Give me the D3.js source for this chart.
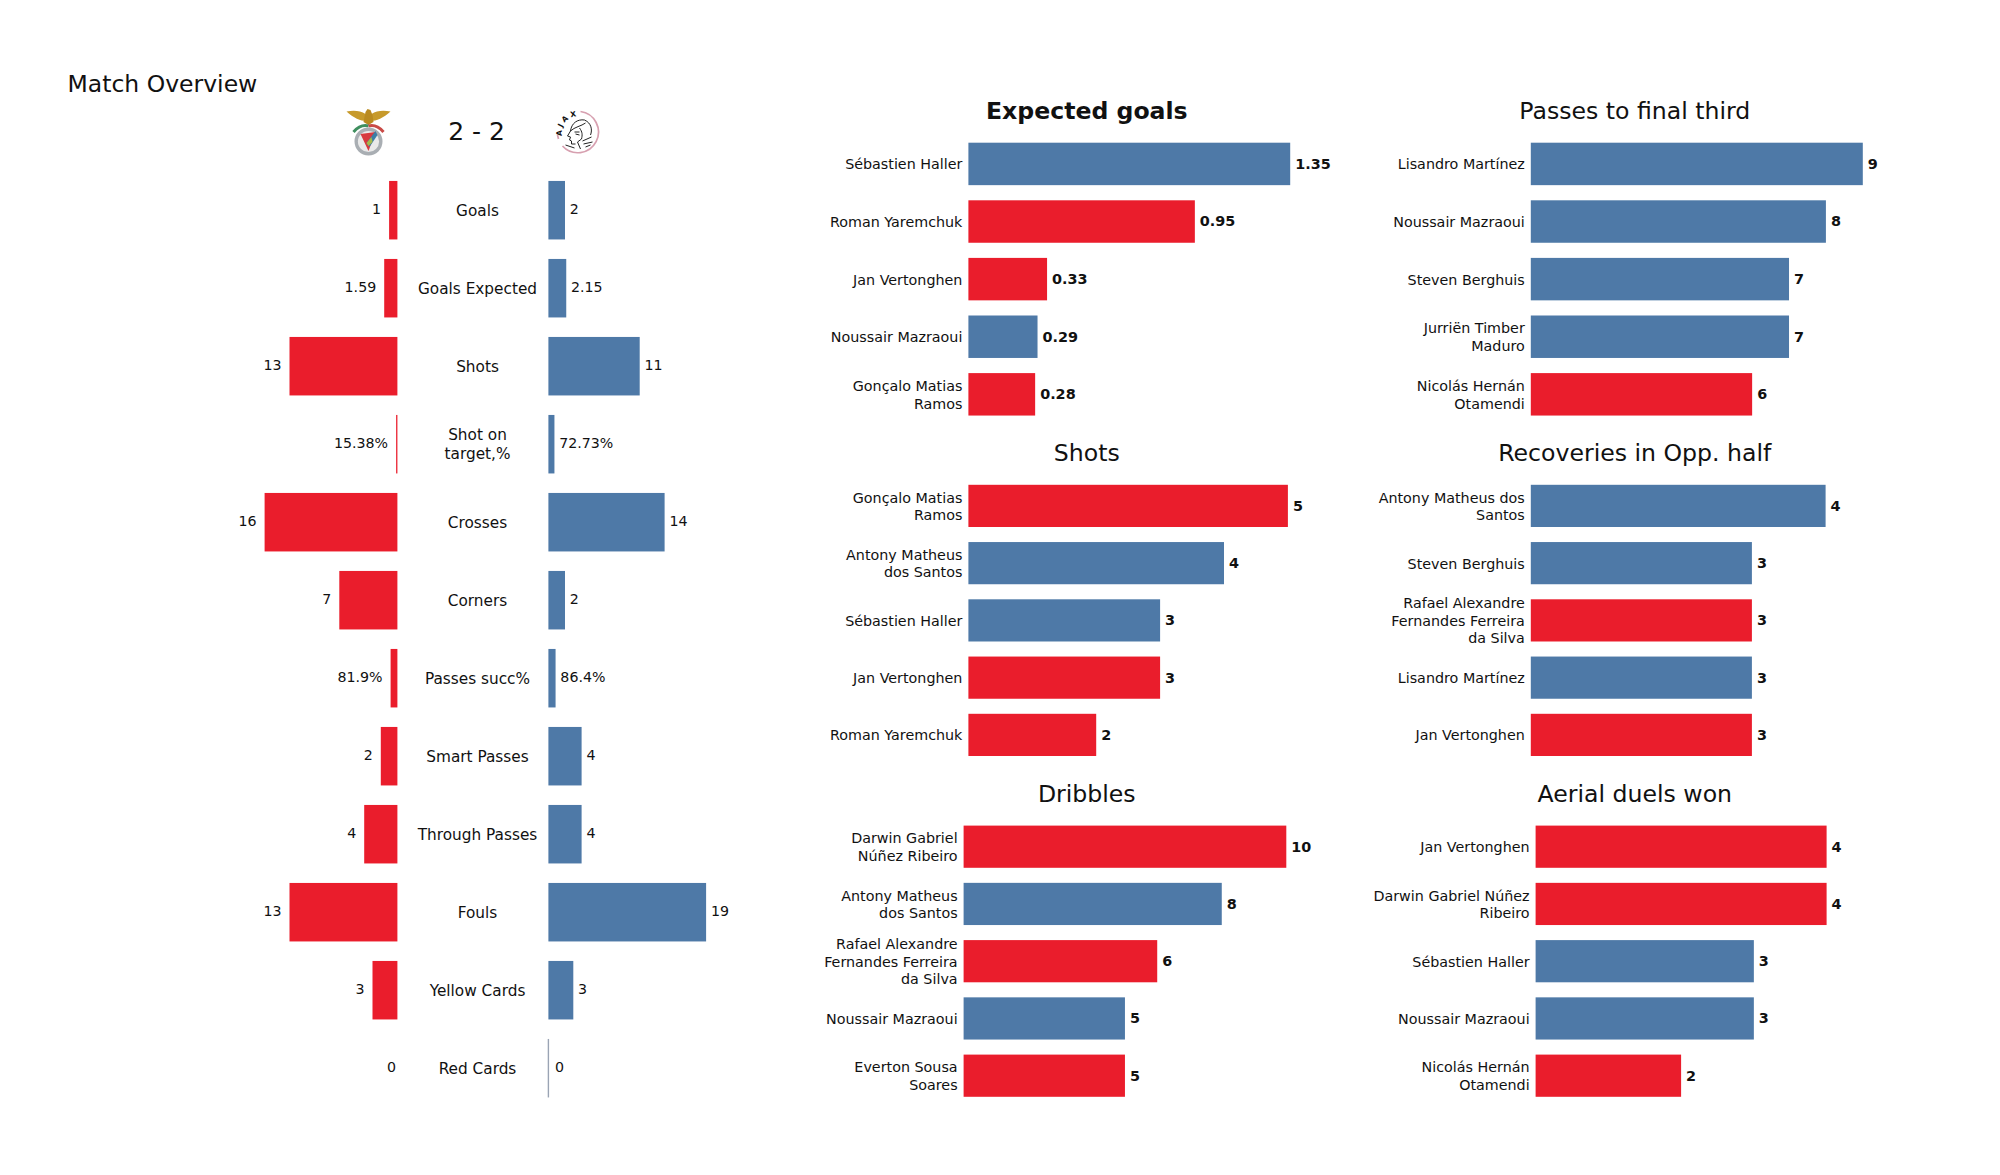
<!DOCTYPE html>
<html>
<head>
<meta charset="utf-8">
<script src="https://cdn.jsdelivr.net/npm/d3@7"></script>
<style>
html,body{margin:0;padding:0;background:#fff}
svg{display:block}
text{font-family:"DejaVu Sans",sans-serif;fill:#111}
</style>
</head>
<body>
<div id="chart"></div>
<script>
// ---- Data ----
const scoreText = "2 - 2";
const overviewTitle = "Match Overview";
const statCategories = ["Goals","Goals Expected","Shots","Shot on\ntarget,%","Crosses","Corners","Passes succ%","Smart Passes","Through Passes","Fouls","Yellow Cards","Red Cards"];
const homeValues = [1,1.59,13,0.1538,16,7,0.819,2,4,13,3,0];
const awayValues = [2,2.15,11,0.7273,14,2,0.864,4,4,19,3,0];
const homeLabels = ["1","1.59","13","15.38%","16","7","81.9%","2","4","13","3","0"];
const awayLabels = ["2","2.15","11","72.73%","14","2","86.4%","4","4","19","3","0"];

const xgTitle = "Expected goals";
const xgPlayers = ["Sébastien Haller","Roman Yaremchuk","Jan Vertonghen","Noussair Mazraoui","Gonçalo Matias\nRamos"];
const xgValues = [1.35,0.95,0.33,0.29,0.28];
const xgTeams = ["away","home","home","away","home"];

const shotsTitle = "Shots";
const shotsPlayers = ["Gonçalo Matias\nRamos","Antony Matheus\ndos Santos","Sébastien Haller","Jan Vertonghen","Roman Yaremchuk"];
const shotsValues = [5,4,3,3,2];
const shotsTeams = ["home","away","away","home","home"];

const dribblesTitle = "Dribbles";
const dribblesPlayers = ["Darwin Gabriel\nNúñez Ribeiro","Antony Matheus\ndos Santos","Rafael Alexandre\nFernandes Ferreira\nda Silva","Noussair Mazraoui","Everton Sousa\nSoares"];
const dribblesValues = [10,8,6,5,5];
const dribblesTeams = ["home","away","home","away","home"];

const finalThirdTitle = "Passes to final third";
const finalThirdPlayers = ["Lisandro Martínez","Noussair Mazraoui","Steven Berghuis","Jurriën Timber\nMaduro","Nicolás Hernán\nOtamendi"];
const finalThirdValues = [9,8,7,7,6];
const finalThirdTeams = ["away","away","away","away","home"];

const recoveriesTitle = "Recoveries in Opp. half";
const recoveriesPlayers = ["Antony Matheus dos\nSantos","Steven Berghuis","Rafael Alexandre\nFernandes Ferreira\nda Silva","Lisandro Martínez","Jan Vertonghen"];
const recoveriesValues = [4,3,3,3,3];
const recoveriesTeams = ["away","away","home","away","home"];

const aerialTitle = "Aerial duels won";
const aerialPlayers = ["Jan Vertonghen","Darwin Gabriel Núñez\nRibeiro","Sébastien Haller","Noussair Mazraoui","Nicolás Hernán\nOtamendi"];
const aerialValues = [4,4,3,3,2];
const aerialTeams = ["home","home","away","away","home"];

// ---- Style ----
const teamColor = {home:"#EA1D2C", away:"#4E79A7"};
const W = 2000, H = 1175;
const svg = d3.select("#chart").append("svg").attr("width",W).attr("height",H).attr("viewBox",`0 0 ${W} ${H}`);

// Replace an axis tick's text with one tspan per line, vertically centred on the tick
function multiline(sel, x, lh, mid){
  sel.each(function(){
    const t = d3.select(this), lines = t.text().split("\n");
    t.text(null).attr("dy",null).attr("y",0);
    lines.forEach((l,i)=>{
      t.append("tspan").attr("x",x)
       .attr("y",(i-(lines.length-1)/2)*lh + mid)
       .text(l);
    });
  });
}

// ---- Header ----
svg.append("text").attr("x",67.5).attr("y",84).attr("dy","0.36em").attr("font-size",23.5).text(overviewTitle);
svg.append("text").attr("x",476.5).attr("y",131).attr("dy","0.36em").attr("text-anchor","middle").attr("font-size",25).text(scoreText);

// ---- Left comparison panel ----
const unitPx = 8.3;
const maxUnits = 20;
const xHome = d3.scaleLinear().domain([0,maxUnits]).range([397.4,397.4-maxUnits*unitPx]);
const xAway = d3.scaleLinear().domain([0,maxUnits]).range([548.4,548.4+maxUnits*unitPx]);
const yStat = d3.scaleBand().domain(statCategories).range([171.2,171.2+12*78]).paddingInner(0.25).paddingOuter(0.125);
const left = svg.append("g").attr("class","overview");

left.selectAll("rect.home").data(statCategories).join("rect").attr("class","home")
  .attr("x",(d,i)=>xHome(homeValues[i])).attr("y",d=>yStat(d))
  .attr("width",(d,i)=>xHome(0)-xHome(homeValues[i])).attr("height",yStat.bandwidth())
  .attr("fill",teamColor.home);
left.selectAll("rect.away").data(statCategories).join("rect").attr("class","away")
  .attr("x",xAway(0)).attr("y",d=>yStat(d))
  .attr("width",(d,i)=>xAway(awayValues[i])-xAway(0)).attr("height",yStat.bandwidth())
  .attr("fill",teamColor.away);
// Zero-valued away bar still shows its hairline edge
left.selectAll("line.zero").data(statCategories.filter((d,i)=>awayValues[i]===0)).join("line").attr("class","zero")
  .attr("x1",xAway(0)).attr("x2",xAway(0)).attr("y1",d=>yStat(d)).attr("y2",d=>yStat(d)+yStat.bandwidth())
  .attr("stroke","#9aa4b4").attr("stroke-width",1.4);

left.selectAll("text.hv").data(statCategories).join("text").attr("class","hv")
  .attr("x",(d,i)=>xHome(homeValues[i])-(homeValues[i]===0?1.4:8))
  .attr("y",d=>yStat(d)+yStat.bandwidth()/2-1).attr("dy","0.36em")
  .attr("text-anchor","end").attr("font-size",14.2).text((d,i)=>homeLabels[i]);
left.selectAll("text.av").data(statCategories).join("text").attr("class","av")
  .attr("x",(d,i)=>xAway(awayValues[i])+(awayValues[i]===0?6.5:4.8))
  .attr("y",d=>yStat(d)+yStat.bandwidth()/2-1).attr("dy","0.36em")
  .attr("text-anchor","start").attr("font-size",14.2).text((d,i)=>awayLabels[i]);

const statAxis = left.append("g").attr("transform","translate(477.5,0)")
  .call(d3.axisLeft(yStat).tickSize(0).tickPadding(0));
statAxis.select(".domain").remove();
statAxis.selectAll("text").attr("text-anchor","middle").attr("font-size",15.3).attr("fill","#111")
  .attr("font-family",'"DejaVu Sans",sans-serif').call(multiline,0,19,5.4);

// ---- Player panels ----
const panels = [
  {title:xgTitle, bold:true, players:xgPlayers, values:xgValues, teams:xgTeams, left:968.4, top:142.7, step:57.6, width:321.8, titleX:1086.8, titleY:111},
  {title:shotsTitle, players:shotsPlayers, values:shotsValues, teams:shotsTeams, left:968.4, top:484.8, step:57.25, width:319.5, titleX:1086.8, titleY:453},
  {title:dribblesTitle, players:dribblesPlayers, values:dribblesValues, teams:dribblesTeams, left:963.6, top:825.6, step:57.25, width:322.7, titleX:1086.8, titleY:794},
  {title:finalThirdTitle, players:finalThirdPlayers, values:finalThirdValues, teams:finalThirdTeams, left:1530.8, top:142.7, step:57.6, width:332, titleX:1634.8, titleY:111},
  {title:recoveriesTitle, players:recoveriesPlayers, values:recoveriesValues, teams:recoveriesTeams, left:1530.8, top:484.8, step:57.25, width:294.8, titleX:1634.8, titleY:453},
  {title:aerialTitle, players:aerialPlayers, values:aerialValues, teams:aerialTeams, left:1535.6, top:825.6, step:57.25, width:291, titleX:1634.8, titleY:794}
];
const pi = 0.263, po = pi/2;
panels.forEach(p=>{
  const g = svg.append("g").attr("class","panel");
  const x = d3.scaleLinear().domain([0,d3.max(p.values)]).range([p.left,p.left+p.width]);
  const y0 = p.top - po*p.step;
  const y = d3.scaleBand().domain(p.players).range([y0,y0+5*p.step]).paddingInner(pi).paddingOuter(po);
  g.append("text").attr("x",p.titleX).attr("y",p.titleY).attr("dy","0.36em").attr("text-anchor","middle")
    .attr("font-size",23.6).attr("font-weight",p.bold?"bold":"normal").text(p.title);
  g.selectAll("rect").data(p.players).join("rect")
    .attr("x",x(0)).attr("y",d=>y(d)).attr("height",y.bandwidth())
    .attr("width",(d,i)=>x(p.values[i])-x(0)).attr("fill",(d,i)=>teamColor[p.teams[i]]);
  g.selectAll("text.val").data(p.players).join("text").attr("class","val")
    .attr("x",(d,i)=>x(p.values[i])+5).attr("y",d=>y(d)+y.bandwidth()/2-0.3).attr("dy","0.36em")
    .attr("font-size",14.4).attr("font-weight","bold").text((d,i)=>p.values[i]);
  const ax = g.append("g").attr("transform",`translate(${p.left},0)`)
    .call(d3.axisLeft(y).tickSize(0).tickPadding(6));
  ax.select(".domain").remove();
  ax.selectAll("text").attr("text-anchor","end").attr("font-size",14.3).attr("fill","#111")
    .attr("font-family",'"DejaVu Sans",sans-serif').call(multiline,-6,17.6,5.4);
});

// ---- Crests (decorative sketches) ----
const benfica = svg.append("g").attr("transform","translate(368.5,130)");
benfica.append("path").attr("fill","#c79a2b")
  .attr("d","M-22,-18.5 C-15,-20 -8,-19.5 -3,-16 L-2,-9 C-8,-9 -15,-12 -22,-18.5 Z M22,-18.5 C15,-20 8,-19.5 3,-16 L2,-9 C8,-9 15,-12 22,-18.5 Z");
benfica.append("path").attr("fill","#b98a20").attr("d","M-3,-18 L-1,-21 L2,-20 L4,-15 L5,-8 L0,-5 L-5,-8 Z");
benfica.append("path").attr("fill","none").attr("stroke","#3f8f5f").attr("stroke-width",3).attr("d","M-15,2 Q-8,-6 0,-4");
benfica.append("path").attr("fill","none").attr("stroke","#c94a46").attr("stroke-width",3).attr("d","M15,2 Q8,-6 0,-4");
benfica.append("circle").attr("cy",11.5).attr("r",12.3).attr("fill","#e9e9e9").attr("stroke","#a9aeb3").attr("stroke-width",3.4);
benfica.append("path").attr("fill","#d8393f").attr("d","M-8,4 L7,2 L0,21 Z");
benfica.append("path").attr("fill","#3d7ea6").attr("d","M7,1 L9,5 L1,17 L-2,13 Z");
benfica.append("path").attr("fill","#a7b84a").attr("d","M-2,13 L3,7 L4,12 L0,16 Z");

const ajax = svg.append("g").attr("transform","translate(577.5,132)").attr("fill","none");
ajax.append("path").attr("stroke","#d7a0b0").attr("stroke-width",1.7).attr("d","M3,-20.5 A20.7,20.7 0 1 1 -15,14 M-20,3 L-19,7");
ajax.append("defs").append("path").attr("id","ajaxArc").attr("d","M-15.2,4 A15.7,15.7 0 0 1 6,-14.5");
ajax.append("text").attr("font-size",7.5).attr("font-weight","bold").attr("letter-spacing",2.4).attr("fill","#222")
  .append("textPath").attr("href","#ajaxArc").text("AJAX");
ajax.append("path").attr("stroke","#222").attr("stroke-width",1)
  .attr("d","M-7,-1 C-6,-9 0,-13 7,-12 C14,-9 15,-2 13,3 M-7,-1 C-3,-5 4,-6 8,-9 M-7,-1 L-10,4 L-7,5 L-8,8 L-6,9 L-6,12 L-2,12 M-3,0 L2,0 M-2,2 L2,3 M2,-4 C5,0 5,3 4,7 L0,10 L3,17 M5,9 L14,5 M6,12 L15,10 M8,15 L13,13 M-12,13 L-3,16");
</script>
</body>
</html>
